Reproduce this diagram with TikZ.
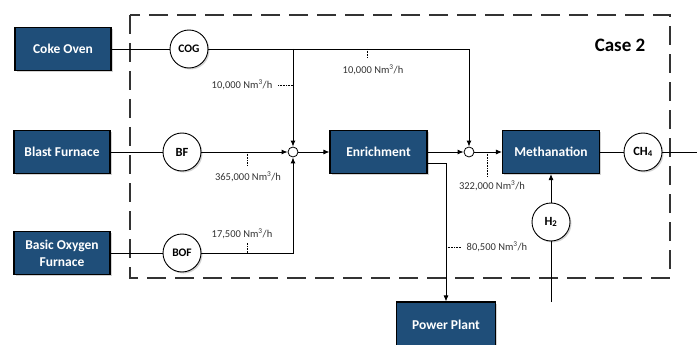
\documentclass[tikz,border=0pt]{standalone}
\usepackage{fontspec}
\setmainfont{Carlito}
\usetikzlibrary{arrows.meta, shadows, positioning}
\definecolor{unitBlue}{HTML}{1F4E79}
\definecolor{rateGrey}{HTML}{333333}
\tikzset{
  unit/.style     = {rectangle, draw=black, line width=1.1pt, fill=unitBlue,
                     text=white, font=\fontsize{13.5}{16}\selectfont\bfseries,
                     minimum width=96pt, minimum height=43pt, align=center,
                     drop shadow={opacity=0.35, shadow xshift=1.8pt, shadow yshift=-1.8pt}},
  stream/.style   = {circle, draw=black, line width=0.9pt, fill=white,
                     minimum size=38pt, inner sep=0pt,
                     font=\fontsize{11.5}{13}\selectfont\bfseries,
                     drop shadow={opacity=0.35, shadow xshift=1.5pt, shadow yshift=-1.5pt}},
  mixer/.style    = {circle, draw=black, line width=0.8pt, fill=white,
                     minimum size=10pt, inner sep=0pt},
  pipe/.style     = {line width=0.9pt, black},
  flow/.style     = {pipe, -{Latex[length=6pt, width=5pt]}},
  leader/.style   = {line width=0.6pt, densely dotted, black},
  rate/.style     = {font=\fontsize{10.5}{12}\selectfont, rateGrey, inner sep=1.5pt},
  boundary/.style = {line width=1.1pt, dash pattern=on 19pt off 9pt, black!80},
}

\begin{document}
\begin{tikzpicture}[x=1pt, y=-1pt]
  \useasboundingbox (0,0) rectangle (697,345);

  % system boundary
  \draw[boundary] (130,15) rectangle (670,278);
  \node[font=\fontsize{19}{22}\selectfont\bfseries] (case) at (620,45) {Case 2};

  % process units
  \node[unit] (coke)   at (63,49)   {Coke Oven};
  \node[unit] (blast)  at (62,152)  {Blast Furnace};
  \node[unit, font=\fontsize{13.5}{17}\selectfont\bfseries] (oxy) at (62,253) {Basic Oxygen\\Furnace};
  \node[unit, minimum width=97pt] (enrich) at (378.5,152) {Enrichment};
  \node[unit, minimum width=97pt] (meth)   at (551,152)   {Methanation};
  \node[unit, minimum width=99pt, minimum height=46pt] (power) at (446,325) {Power Plant};

  % gas streams
  \node[stream] (cog) at (189,49)  {COG};
  \node[stream, font=\fontsize{12.5}{14}\selectfont\bfseries] (bf)  at (182,152) {BF};
  \node[stream] (bof) at (182,253) {BOF};
  \node[stream, font=\fontsize{12.5}{14}\selectfont\bfseries] (ch4) at (643,152) {CH\textsubscript{4}};
  \node[stream, font=\fontsize{12.5}{14}\selectfont\bfseries] (h2)  at (551,222) {H\textsubscript{2}};

  % mixing points
  \node[mixer] (mixA) at (293,152) {};
  \node[mixer] (mixB) at (469,152) {};

  \coordinate (out)  at (697,152);
  \coordinate (h2in) at (551,302);

  % pipes
  \draw[pipe] (coke) -- (cog);
  \draw[flow] (cog) -| (mixB);
  \draw[flow] (cog -| mixA) -- (mixA);
  \draw[pipe] (blast) -- (bf);
  \draw[flow] (bf) -- (mixA);
  \draw[pipe] (oxy) -- (bof);
  \draw[flow] (bof) -| (mixA);
  \draw[flow] (mixA) -- (enrich);
  \draw[flow] (enrich) -- (mixB);
  \draw[flow] (mixB) -- (meth);
  \draw[flow] ([yshift=-11pt]enrich.east) -| (power);
  \draw[pipe] (meth) -- (ch4);
  \draw[pipe] (ch4) -- (out);
  \draw[pipe] (h2in) -- (h2);
  \draw[flow] (h2) -- (meth);

  % flow rates
  \node[rate, anchor=east] (rCogA) at (274,85) {10,000 Nm\textsuperscript{3}/h};
  \draw[leader, shorten <=4pt] (rCogA) -- (rCogA -| mixA);
  \node[rate] (rCogB) at (373,70) {10,000 Nm\textsuperscript{3}/h};
  \draw[leader] (367,49) -- (367,58);
  \node[rate] (rBf) at (248,177) {365,000 Nm\textsuperscript{3}/h};
  \draw[leader] (247,152) -- (247,166);
  \node[rate] (rBof) at (242,234) {17,500 Nm\textsuperscript{3}/h};
  \draw[leader] (247,253) -- (247,242);
  \node[rate] (rMeth) at (492,186) {322,000 Nm\textsuperscript{3}/h};
  \draw[leader] (487,152) -- (487,177);
  \node[rate, anchor=west] (rPower) at (465,247) {80,500 Nm\textsuperscript{3}/h};
  \draw[leader, shorten >=4pt] (446,247) -- (rPower);
\end{tikzpicture}
\end{document}
